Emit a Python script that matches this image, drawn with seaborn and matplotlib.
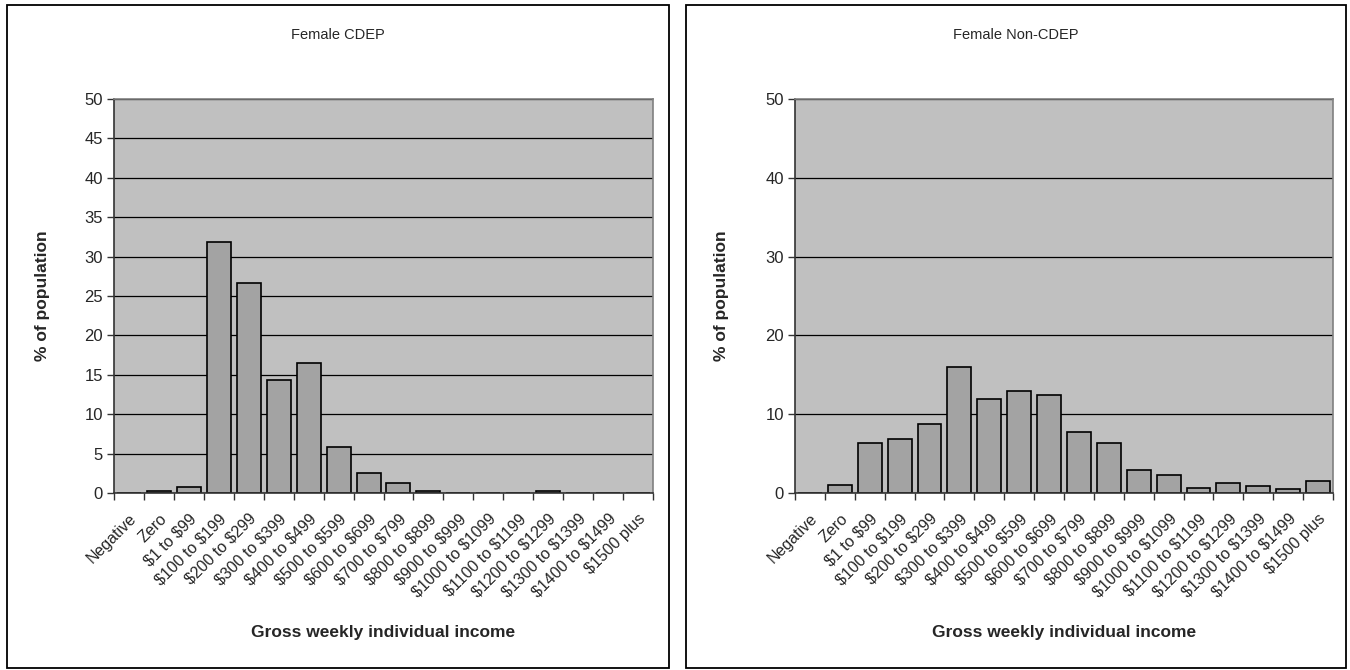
import numpy as np
import pandas as pd
import matplotlib
matplotlib.use("Agg")
import matplotlib.pyplot as plt
from matplotlib.patches import Rectangle
from matplotlib.transforms import ScaledTranslation
import seaborn as sns

# --- data ---
categories = ["Negative", "Zero", "$1 to $99", "$100 to $199", "$200 to $299",
              "$300 to $399", "$400 to $499", "$500 to $599", "$600 to $699",
              "$700 to $799", "$800 to $899", "$900 to $999", "$1000 to $1099",
              "$1100 to $1199", "$1200 to $1299", "$1300 to $1399",
              "$1400 to $1499", "$1500 plus"]
cdep = [0, 0.3, 0.7, 31.9, 26.6, 14.4, 16.5, 5.8, 2.5, 1.3, 0.3,
        0, 0, 0, 0.3, 0, 0, 0]
non_cdep = [0, 1.0, 6.4, 6.8, 8.8, 16.0, 11.9, 12.9, 12.5, 7.8, 6.4,
            2.9, 2.3, 0.6, 1.3, 0.9, 0.5, 1.5]
panels = [("Female CDEP", cdep, np.arange(0, 51, 5)),
          ("Female Non-CDEP", non_cdep, np.arange(0, 51, 10))]

sns.set_theme(style="white")
plt.rcParams["font.family"] = ["Liberation Sans", "DejaVu Sans"]

W, H = 1350, 670
fig = plt.figure(figsize=(W / 100, H / 100), dpi=100)

# axes / frame boxes in pixels (left, top, right, bottom)
ax_boxes = [(114, 99, 653, 493), (795, 99, 1333, 493)]
frames = [(7, 5, 669, 668), (686, 5, 1346, 668)]

labels_tex = [c.replace("$", r"\$") for c in categories]
shift = ScaledTranslation(-6 / 100, 0, fig.dpi_scale_trans)

for (title, values, yticks), (l, t, r, b), (fl, ft, fr, fb) in zip(panels, ax_boxes, frames):
    fig.add_artist(Rectangle((fl / W, 1 - fb / H), (fr - fl) / W, (fb - ft) / H,
                             transform=fig.transFigure, fill=False,
                             edgecolor="black", lw=1.3))
    ax = fig.add_axes([l / W, 1 - b / H, (r - l) / W, (b - t) / H])
    df = pd.DataFrame({"cat": categories, "val": values})
    sns.barplot(data=df, x="cat", y="val", order=categories, color="#a3a3a3",
                saturation=1, edgecolor="black", linewidth=1.2, width=0.8, ax=ax)
    ax.set_facecolor("#c0c0c0")
    ax.set_ylim(0, 50)
    ax.set_xlim(-0.5, len(categories) - 0.5)
    ax.set_yticks(yticks)
    ax.yaxis.grid(True, color="black", lw=0.9)
    ax.set_axisbelow(True)

    ax.set_xticks(np.arange(len(categories)), labels=labels_tex, rotation=45,
                  ha="right", va="top", rotation_mode="anchor", fontsize=11.5)
    for lab in ax.get_xticklabels():
        lab.set_transform(lab.get_transform() + shift)
    ax.set_xticks(np.arange(-0.5, len(categories), 1), minor=True)
    ax.tick_params(axis="x", which="major", length=0, pad=13)
    ax.tick_params(axis="x", which="minor", length=5, width=1, color="#333333",
                   direction="out", bottom=True)
    ax.tick_params(axis="y", length=5, width=1, color="#333333", direction="out",
                   left=True, labelsize=12, pad=3)

    for side in ["top", "right"]:
        ax.spines[side].set_color("#808080")
        ax.spines[side].set_linewidth(1.2)
    for side in ["left", "bottom"]:
        ax.spines[side].set_color("#333333")
        ax.spines[side].set_linewidth(1.2)

    ax.set_xlabel("Gross weekly individual income", fontsize=12.5,
                  fontweight="bold")
    ax.xaxis.set_label_coords(0.5, -(625 - b) / (b - t))
    ax.set_ylabel("% of population", fontsize=12.5, fontweight="bold")
    ax.yaxis.set_label_coords(-(l - fl - 43) / (r - l), 0.5)

    fig.text((fl + fr) / 2 / W, 1 - 35 / H, title, ha="center", va="center",
             fontsize=10.5)

fig.savefig("out.png", dpi=100)
